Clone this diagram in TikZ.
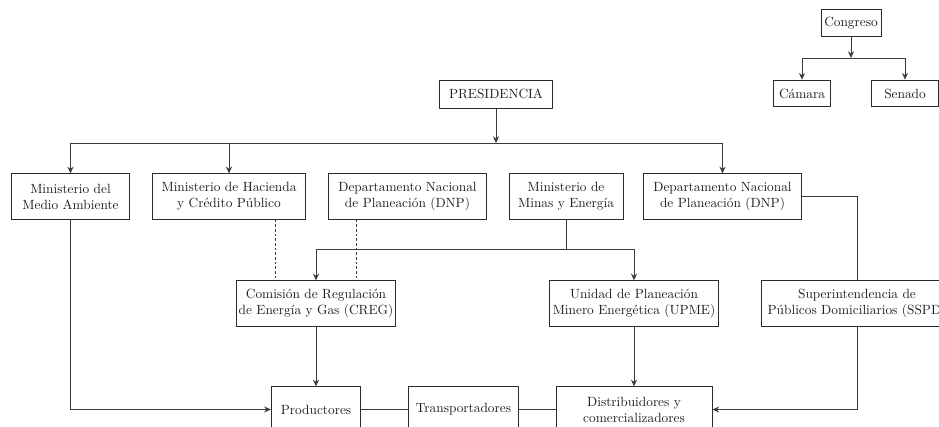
\documentclass[tikz,border=0pt]{standalone}
\usetikzlibrary{arrows.meta,positioning}
\definecolor{boxline}{HTML}{2B2B2B}
\definecolor{wire}{HTML}{3A3A3A}
\definecolor{labeltext}{HTML}{1F1F1F}
\begin{document}
\begin{tikzpicture}[x=0.75pt,y=-0.75pt,
  box/.style={draw=boxline, line width=0.75pt, fill=white, align=center, text=labeltext, inner sep=2pt, minimum height=34pt},
  smallbox/.style={box, minimum height=20pt},
  wire/.style={draw=wire, line width=0.75pt},
  arr/.style={wire, -{Stealth[length=5pt,width=4.5pt]}},
  dotwire/.style={wire, dash pattern=on 2pt off 1.5pt}]
  \useasboundingbox (0,0) rectangle (939,426);
  \clip (0,0) rectangle (939,426);

  % congreso
  \node[smallbox, minimum width=45pt] (congreso) at (851,23) {Congreso};
  \node[smallbox, minimum width=43pt] (camara) at (802,93.5) {Cámara};
  \node[smallbox, minimum width=50pt] (senado) at (905,93.5) {Senado};
  \coordinate (cbus) at (851,58);
  \draw[arr] (congreso) -- (cbus);
  \draw[arr] (cbus) -| (camara);
  \draw[arr] (cbus) -| (senado);

  % presidencia and ministries
  \node[smallbox, minimum width=85pt, minimum height=21pt] (pres) at (496,94) {PRESIDENCIA};
  \node[box, minimum width=89pt] (medio) at (70.5,196.5) {Ministerio del\\Medio Ambiente};
  \node[box, minimum width=115pt] (hacienda) at (229,196.5) {Ministerio de Hacienda\\y Crédito Público};
  \node[box, minimum width=118pt] (dnpa) at (407.5,196.5) {Departamento Nacional\\de Planeación (DNP)};
  \node[box, minimum width=85.5pt] (minas) at (566,196.5) {Ministerio de\\Minas y Energía};
  \node[box, minimum width=118pt] (dnpb) at (722.5,196.5) {Departamento Nacional\\de Planeación (DNP)};
  \coordinate (pbus) at (496,143);
  \draw[arr] (pres) -- (pbus);
  \draw[arr] (pbus) -| (medio);
  \draw[arr] (pbus) -| (hacienda);
  \draw[arr] (pbus) -| (dnpb);

  % regulators
  \node[box, minimum width=117pt] (creg) at (316,303.5) {Comisión de Regulación\\de Energía y Gas (CREG)};
  \node[box, minimum width=127pt] (upme) at (634,303.5) {Unidad de Planeación\\Minero Energética (UPME)};
  \node[box, minimum width=144pt] (sspd) at (857,303.5) {Superintendencia de\\Públicos Domiciliarios (SSPD)};
  \coordinate (mbus) at (566,249);
  \draw[wire] (minas) -- (mbus);
  \draw[arr] (mbus) -| (creg);
  \draw[arr] (mbus) -| (upme);
  \coordinate (dh) at (275,250);
  \coordinate (dd) at (356,250);
  \draw[dotwire] (hacienda.south -| dh) -- (creg.north -| dh);
  \draw[dotwire] (dnpa.south -| dd) -- (creg.north -| dd);
  \draw[wire] (dnpb) -| (sspd);

  % market agents
  \node[box, minimum width=67pt] (prod) at (316,409.5) {Productores};
  \node[box, minimum width=83pt] (trans) at (463.5,409.5) {Transportadores};
  \node[box, minimum width=117pt] (dist) at (634,409.5) {Distribuidores y\\comercializadores};
  \draw[arr] (creg) -- (prod);
  \draw[arr] (upme) -- (dist);
  \draw[wire] (prod) -- (trans);
  \draw[wire] (trans) -- (dist);
  \draw[arr] (medio) |- (prod);
  \draw[arr] (sspd) |- (dist);
\end{tikzpicture}
\end{document}
